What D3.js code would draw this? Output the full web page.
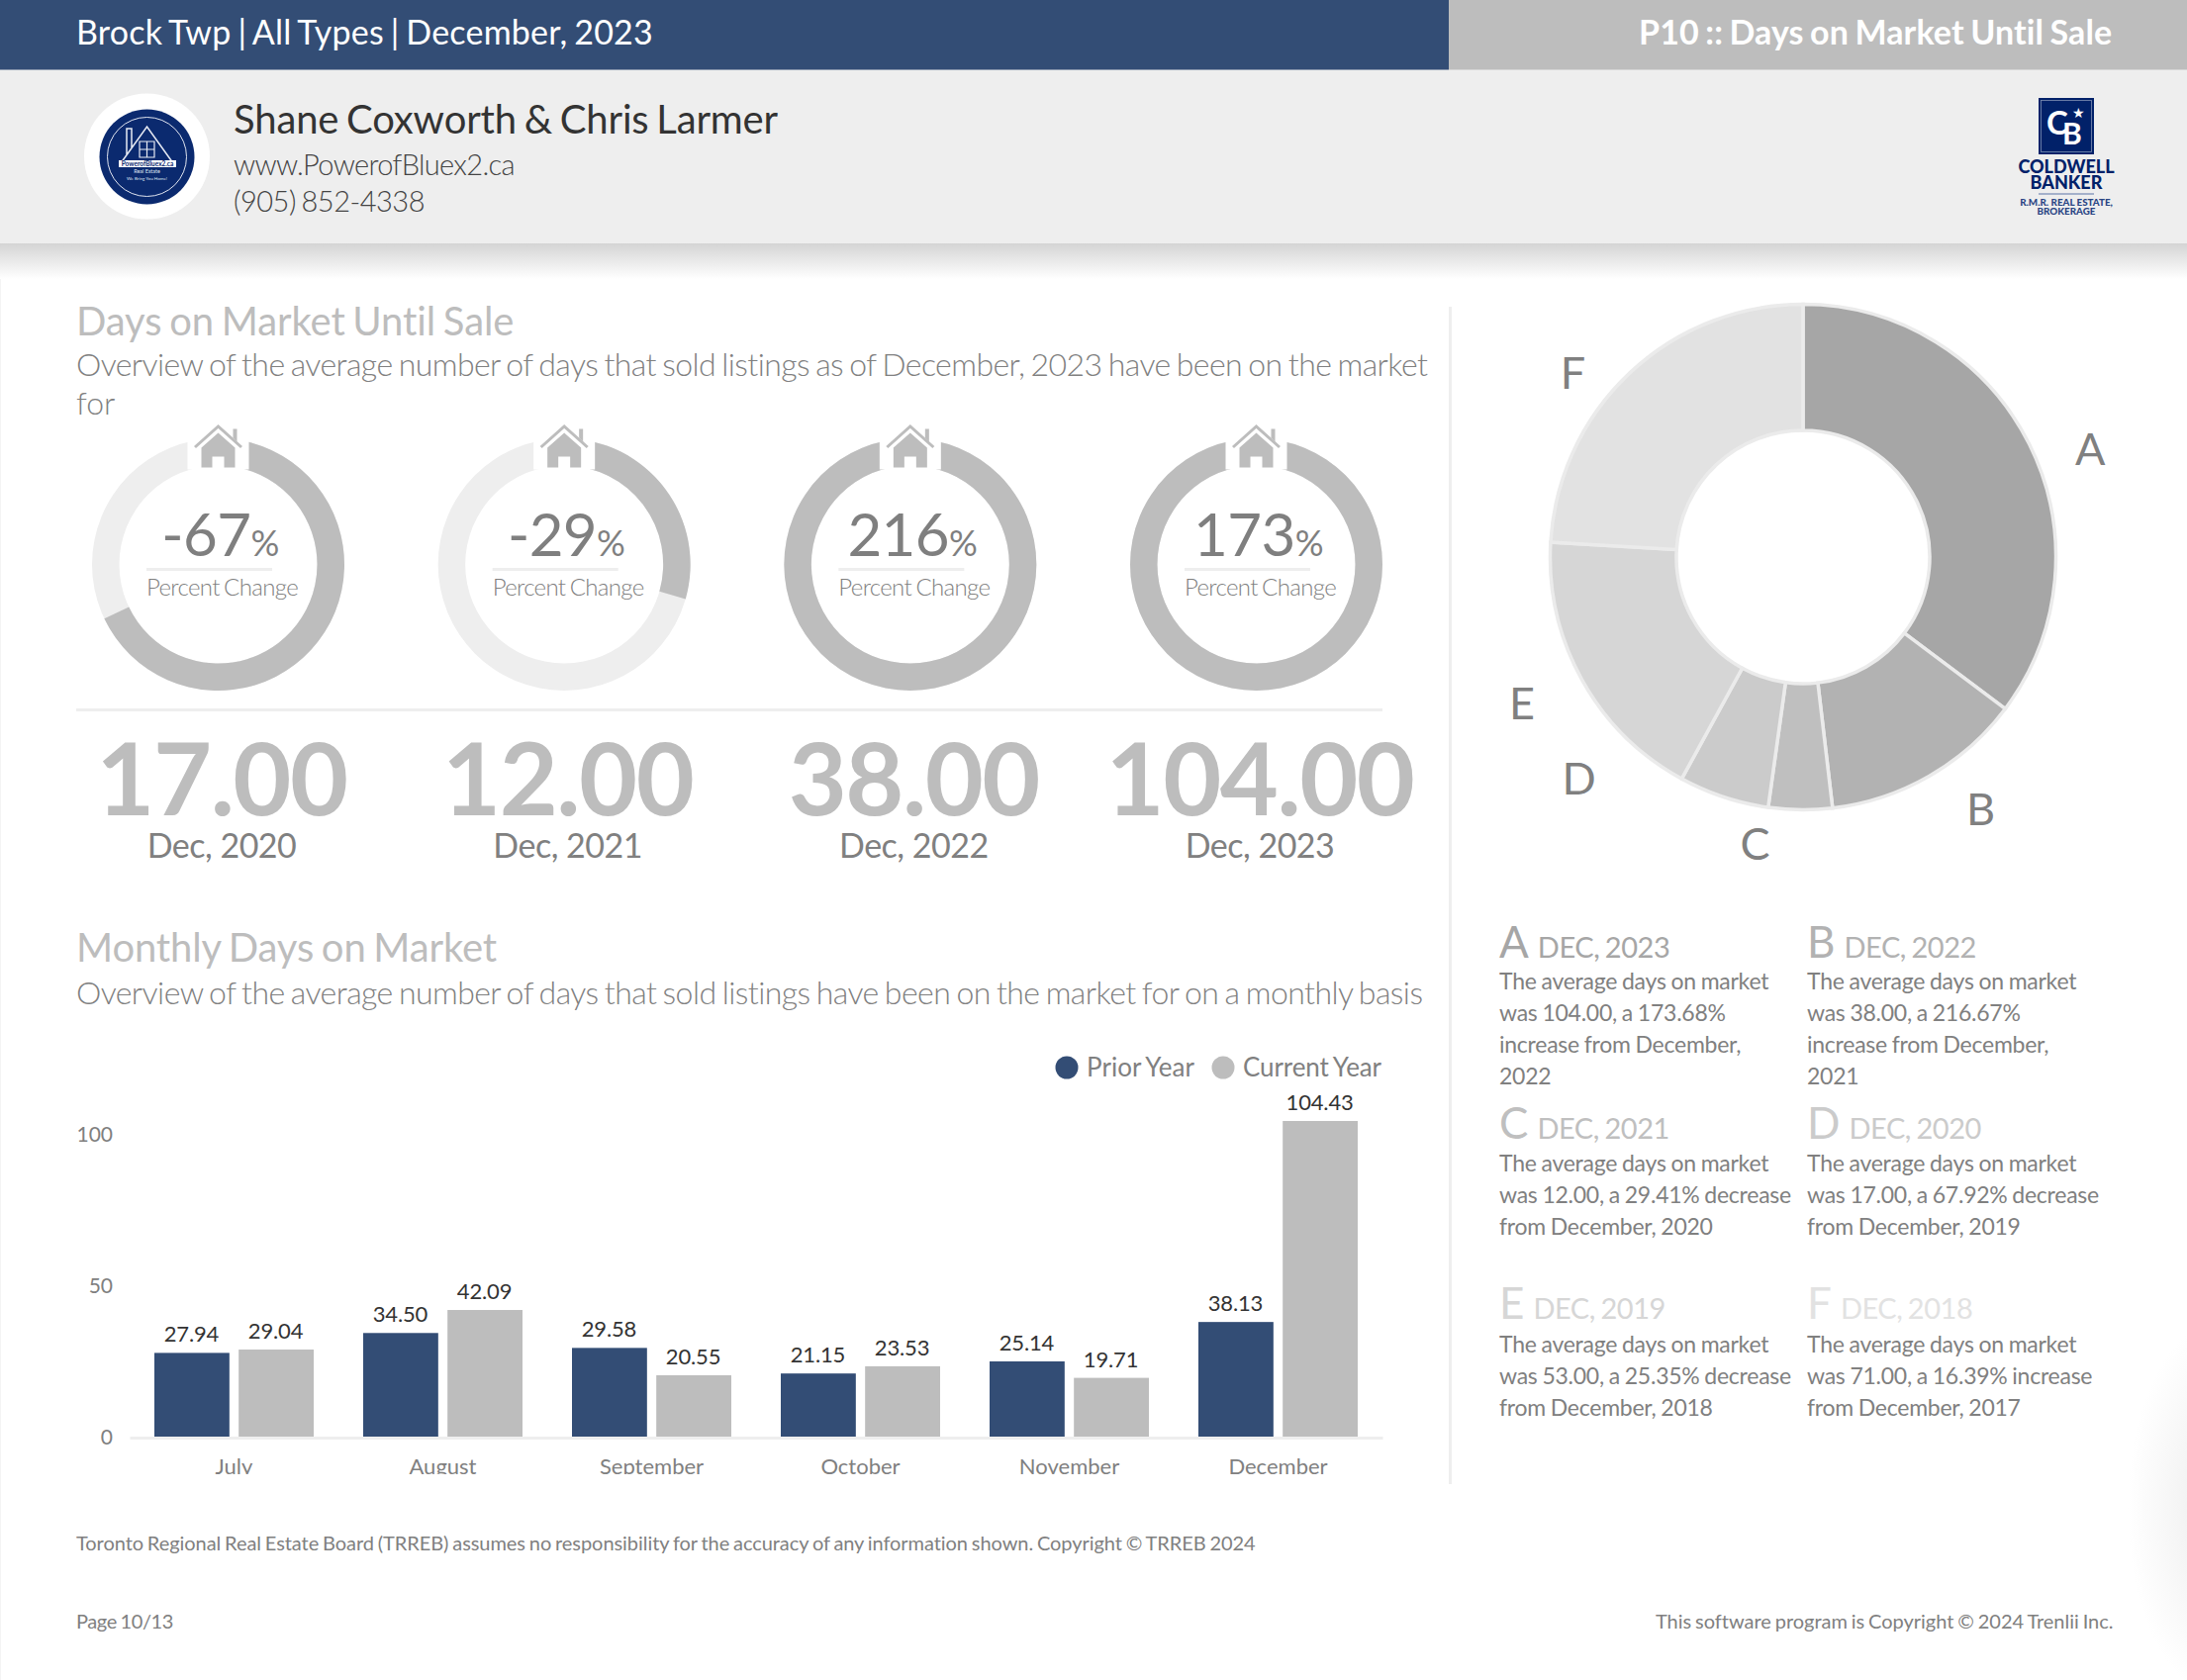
<!DOCTYPE html>
<html><head><meta charset="utf-8">
<script src="https://cdnjs.cloudflare.com/ajax/libs/d3/7.8.5/d3.min.js"></script>
<style>
html,body{margin:0;padding:0;background:#fff}
svg{display:block}
text{font-family:Lato,"Open Sans",sans-serif}
</style></head><body>
<svg id="page" width="2210" height="1698" viewBox="0 0 2210 1698"></svg>
<script>
// ---- data ----
const months = ["July","August","September","October","November","December"];
const priorYear = [27.94,34.50,29.58,21.15,25.14,38.13];
const currentYear = [29.04,42.09,20.55,23.53,19.71,104.43];
const seriesNames = ["Prior Year","Current Year"];
const yTicks = [0,50,100];
const pctChange = [-67.92,-29.41,216.67,173.68];
const bigValues = ["17.00","12.00","38.00","104.00"];
const bigDates = ["Dec, 2020","Dec, 2021","Dec, 2022","Dec, 2023"];
const pieKeys = ["A","B","C","D","E","F"];
const pieValues = [104,38,12,17,53,71];
const pieYears = ["DEC, 2023","DEC, 2022","DEC, 2021","DEC, 2020","DEC, 2019","DEC, 2018"];
const pieColors = ["#a6a6a6","#b2b2b2","#bfbfbf","#cbcbcb","#d6d6d6","#e2e2e2"];
const pieNudgeX = [4,20,-45,-126,-4,-13];
const pieNudgeY = [34,-23,-30,-80,-7,47];
const pieNotes = [
 ["The average days on market","was 104.00, a 173.68%","increase from December,","2022"],
 ["The average days on market","was 38.00, a 216.67%","increase from December,","2021"],
 ["The average days on market","was 12.00, a 29.41% decrease","from December, 2020"],
 ["The average days on market","was 17.00, a 67.92% decrease","from December, 2019"],
 ["The average days on market","was 53.00, a 25.35% decrease","from December, 2018"],
 ["The average days on market","was 71.00, a 16.39% increase","from December, 2017"]];

// ---- helpers ----
const NAVY="#334d75", GREY="#bdbdbd", TXT="#808080", RULE="#eeeeee";
const svg=d3.select("#page");
const defs=svg.append("defs");
function T(s,x,y,size,fill,opt={}){
  const t=svg.append("text").attr("x",x).attr("y",y).attr("font-size",size).attr("fill",fill).text(s);
  if(opt.anchor)t.attr("text-anchor",opt.anchor);
  if(opt.weight)t.attr("font-weight",opt.weight);
  if(opt.ls!==undefined)t.attr("letter-spacing",opt.ls);
  if(opt.ws!==undefined)t.attr("word-spacing",opt.ws);
  if(opt.fit){
    // tighten to the set width of the source: narrower word gaps, then tracking
    const fs=+size, s0=String(s);
    t.attr("word-spacing",-0.06*fs);
    const len=t.node().getComputedTextLength();
    t.attr("letter-spacing",(opt.fit-len)/s0.length);
  }
  return t;
}
function R(x,y,w,h,fill){return svg.append("rect").attr("x",x).attr("y",y).attr("width",w).attr("height",h).attr("fill",fill);}

// ---- page chrome ----
const shadow=defs.append("linearGradient").attr("id","shadow").attr("x1",0).attr("x2",0).attr("y1",0).attr("y2",1);
shadow.append("stop").attr("offset",0).attr("stop-color","#d4d4d4");
shadow.append("stop").attr("offset",1).attr("stop-color","#ffffff");
const glow=defs.append("radialGradient").attr("id","glow");
glow.append("stop").attr("offset",0).attr("stop-color","#ececec");
glow.append("stop").attr("offset",1).attr("stop-color","#ffffff");
svg.append("ellipse").attr("cx",2245).attr("cy",1525).attr("rx",95).attr("ry",190).attr("fill","url(#glow)");
R(0,0,1,1698,"#f4f4f4");
R(0,70,2210,176,"#eeeeee");
R(0,246,2210,36,"url(#shadow)");
R(0,0,1464,70.5,NAVY);
R(1464,0,746,70.5,GREY);
T("Brock Twp | All Types | December, 2023",77,45,34,"#fff",{fit:583});
T("P10 :: Days on Market Until Sale",1656,45,34,"#fff",{weight:700,fit:479});

// agent logo
svg.append("circle").attr("cx",148.5).attr("cy",158).attr("r",63.5).attr("fill","#fff");
svg.append("circle").attr("cx",148.5).attr("cy",158.5).attr("r",48).attr("fill","#0b2a6f");
svg.append("circle").attr("cx",148.5).attr("cy",158.5).attr("r",40).attr("fill","none").attr("stroke","#dfe4ef").attr("stroke-width",1);
svg.append("path").attr("d","M122 165 L148.5 128 L175 165 M128 156 V130 h5 V149").attr("fill","none").attr("stroke","#e6eaf3").attr("stroke-width",1.5);
svg.append("path").attr("d","M141 143h15v16h-15z M148.5 143v16 M141 151h15").attr("fill","none").attr("stroke","#e6eaf3").attr("stroke-width",1.2);
R(120,162,58,7,"#fff");
T("PowerofBluex2.ca",149,168,6.5,"#0b2a6f",{anchor:"middle",weight:700});
T("Real Estate",148.5,175,5.5,"#dfe4ef",{anchor:"middle"});
T("We Bring You Home!",148.5,182,4.5,"#dfe4ef",{anchor:"middle"});
T("Shane Coxworth & Chris Larmer",236,135,40,"#333",{fit:550});
T("www.PowerofBluex2.ca",236,177,29,"#444",{weight:300,fit:284});
T("(905) 852-4338",236,214,29,"#444",{weight:300,fit:193});

// brokerage logo
R(2060,99,56,57,"#012169");
svg.append("rect").attr("x",2062.5).attr("y",101.5).attr("width",51).attr("height",52).attr("fill","none").attr("stroke","#7f90b4").attr("stroke-width",.8);
T("C",2079,136,33,"#fff",{anchor:"middle",weight:700});
T("B",2094,146,30,"#fff",{anchor:"middle",weight:700});
T("★",2100,119,14,"#fff",{anchor:"middle"});
T("COLDWELL",2088,175,18,"#012169",{anchor:"middle",weight:900});
T("BANKER",2088,191,18,"#012169",{anchor:"middle",weight:900});
R(2060,195.5,56,1,"#5a72a5");
T("R.M.R. REAL ESTATE,",2088,208,9.8,"#2a4584",{anchor:"middle",weight:900});
T("BROKERAGE",2088,217,9.8,"#2a4584",{anchor:"middle",weight:900});

// ---- section heads ----
T("Days on Market Until Sale",77,339,40,GREY,{fit:443});
T("Overview of the average number of days that sold listings as of December, 2023 have been on the market",77,380,32,TXT,{weight:300,fit:1366});
T("for",77,419,32,TXT,{weight:300});
T("Monthly Days on Market",77,972,40,GREY,{fit:425});
T("Overview of the average number of days that sold listings have been on the market for on a monthly basis",77,1015,32,TXT,{weight:300,fit:1361});
R(1464,310,3,1190,RULE);

// ---- percent-change rings ----
const ringX=d3.scalePoint().domain(d3.range(4)).range([220.5,1269.5]);
const textX=d3.scalePoint().domain(d3.range(4)).range([224,1273]);
const ringArc=d3.arc().innerRadius(100).outerRadius(127.5);
const ringScale=d3.scaleLinear().domain([0,100]).range([0,2*Math.PI]).clamp(true);
pctChange.forEach((p,i)=>{
  const cx=ringX(i), tx=textX(i), g=svg.append("g").attr("transform",`translate(${cx},570.5)`);
  g.append("path").attr("d",ringArc({startAngle:0,endAngle:2*Math.PI})).attr("fill",RULE);
  g.append("path").attr("d",ringArc({startAngle:0,endAngle:ringScale(Math.abs(p))})).attr("fill",GREY);
  g.append("rect").attr("x",-31).attr("y",-134).attr("width",62).attr("height",38).attr("fill","#fff");
  g.append("path").attr("d","M-23.5 -118.5 L0 -139.5 L23.5 -118.5").attr("fill","none").attr("stroke",GREY).attr("stroke-width",3);
  g.append("path").attr("d","M0 -133 L17 -118 V-98 H6 V-109 H-6 V-98 H-17 V-118 Z M15 -137 h4 v13 l-4 -4 Z").attr("fill",GREY);
  const t=T("",tx-1.5,562,60,"#7f7f7f",{anchor:"middle",ls:-.6});
  t.append("tspan").text(Math.trunc(p));
  t.append("tspan").attr("font-size",36).text("%");
  R(tx-76,574,127,3,RULE);
  T("Percent Change",tx-76,602,24,TXT,{weight:300,fit:153});
  T(bigValues[i],tx,824,102,GREY,{anchor:"middle",weight:700,ls:-1.5});
  T(bigDates[i],tx,867,34,TXT,{anchor:"middle",ls:-.5});
});
R(77,716,1320,3,RULE);

// ---- monthly bars ----
const x=d3.scaleBand().domain(months).range([131,1397]).paddingInner(.237).paddingOuter(.1185);
const xs=d3.scaleBand().domain(seriesNames).range([0,x.bandwidth()]).paddingInner(.11);
const y=d3.scaleLinear().domain([0,104.43]).range([1453,1133]);
const color=d3.scaleOrdinal().domain(seriesNames).range([NAVY,GREY]);
defs.append("clipPath").attr("id","xclip").append("rect").attr("x",0).attr("y",1440).attr("width",2210).attr("height",50);
const rows=months.flatMap((m,i)=>[{m,s:seriesNames[0],v:priorYear[i]},{m,s:seriesNames[1],v:currentYear[i]}]);
const yAxis=svg.append("g").attr("transform","translate(121,0)").call(d3.axisLeft(y).tickValues(yTicks).tickSize(0).tickPadding(7));
yAxis.select(".domain").remove();
yAxis.selectAll("text").attr("font-size",21).attr("fill",TXT).style("font-family","Lato");
const xAxis=svg.append("g").attr("clip-path","url(#xclip)").append("g").attr("transform","translate(0,1453)").call(d3.axisBottom(x).tickSize(0).tickPadding(21));
xAxis.select(".domain").attr("stroke",RULE).attr("stroke-width",3);
xAxis.selectAll("text").attr("font-size",22).attr("fill",TXT).style("font-family","Lato");
const bars=svg.append("g");
bars.selectAll("rect").data(rows).join("rect")
 .attr("x",d=>x(d.m)+xs(d.s)).attr("width",xs.bandwidth())
 .attr("y",d=>y(d.v)).attr("height",d=>y(0)-y(d.v)-1).attr("fill",d=>color(d.s));
bars.selectAll("text").data(rows).join("text")
 .attr("x",d=>x(d.m)+xs(d.s)+xs.bandwidth()/2-.5).attr("y",d=>y(d.v)-11)
 .attr("text-anchor","middle").attr("font-size",22).attr("letter-spacing",-.15).attr("fill","#333").text(d=>d.v.toFixed(2));
// legend
const legendX=[[1078,1098],[1236,1256]];
const legendW=[109,140];
seriesNames.forEach((s,i)=>{
  svg.append("circle").attr("cx",legendX[i][0]).attr("cy",1079).attr("r",11.5).attr("fill",color(s));
  T(s,legendX[i][1],1088,26,TXT,{fit:legendW[i]});
});

// ---- share-of-days donut ----
const pie=d3.pie().sort(null)(pieValues);
const pieG=svg.append("g").attr("transform","translate(1822,563)");
const pieArc=d3.arc().innerRadius(128).outerRadius(255.5);
const labelArc=d3.arc().innerRadius(320).outerRadius(320);
pieG.selectAll("path").data(pie).join("path").attr("d",pieArc)
 .attr("fill",(d,i)=>pieColors[i]).attr("stroke","#ebebeb").attr("stroke-width",3.5);
pieG.selectAll("text").data(pie).join("text")
 .attr("transform",(d,i)=>{const c=labelArc.centroid(d);return `translate(${c[0]+pieNudgeX[i]},${c[1]+pieNudgeY[i]})`;})
 .attr("text-anchor","middle").attr("dy",".36em").attr("font-size",45).attr("fill",TXT).text((d,i)=>pieKeys[i]);

// ---- notes ----
const noteX=[1515,1826], noteY=[968,1151,1333], bodyY=[1000,1184,1367];
pieKeys.forEach((k,i)=>{
  const row=Math.floor(i/2), nx=noteX[i%2], ny=noteY[row];
  const t=T("",nx,ny,44,pieColors[i]);
  t.append("tspan").text(k);
  t.append("tspan").attr("font-size",29).attr("dx",9).attr("letter-spacing",-.45).attr("word-spacing",-1.5).text(pieYears[i]);
  pieNotes[i].forEach((l,j)=>T(l,nx,bodyY[row]+j*32,23,TXT,{ls:-.25,ws:-.8}));
});

// ---- footer ----
T("Toronto Regional Real Estate Board (TRREB) assumes no responsibility for the accuracy of any information shown. Copyright © TRREB 2024",77,1567,20,TXT,{fit:1192});
T("Page 10/13",77,1646,20,TXT,{fit:98});
T("This software program is Copyright © 2024 Trenlii Inc.",1673,1646,20,TXT,{fit:462});
</script></body></html>
